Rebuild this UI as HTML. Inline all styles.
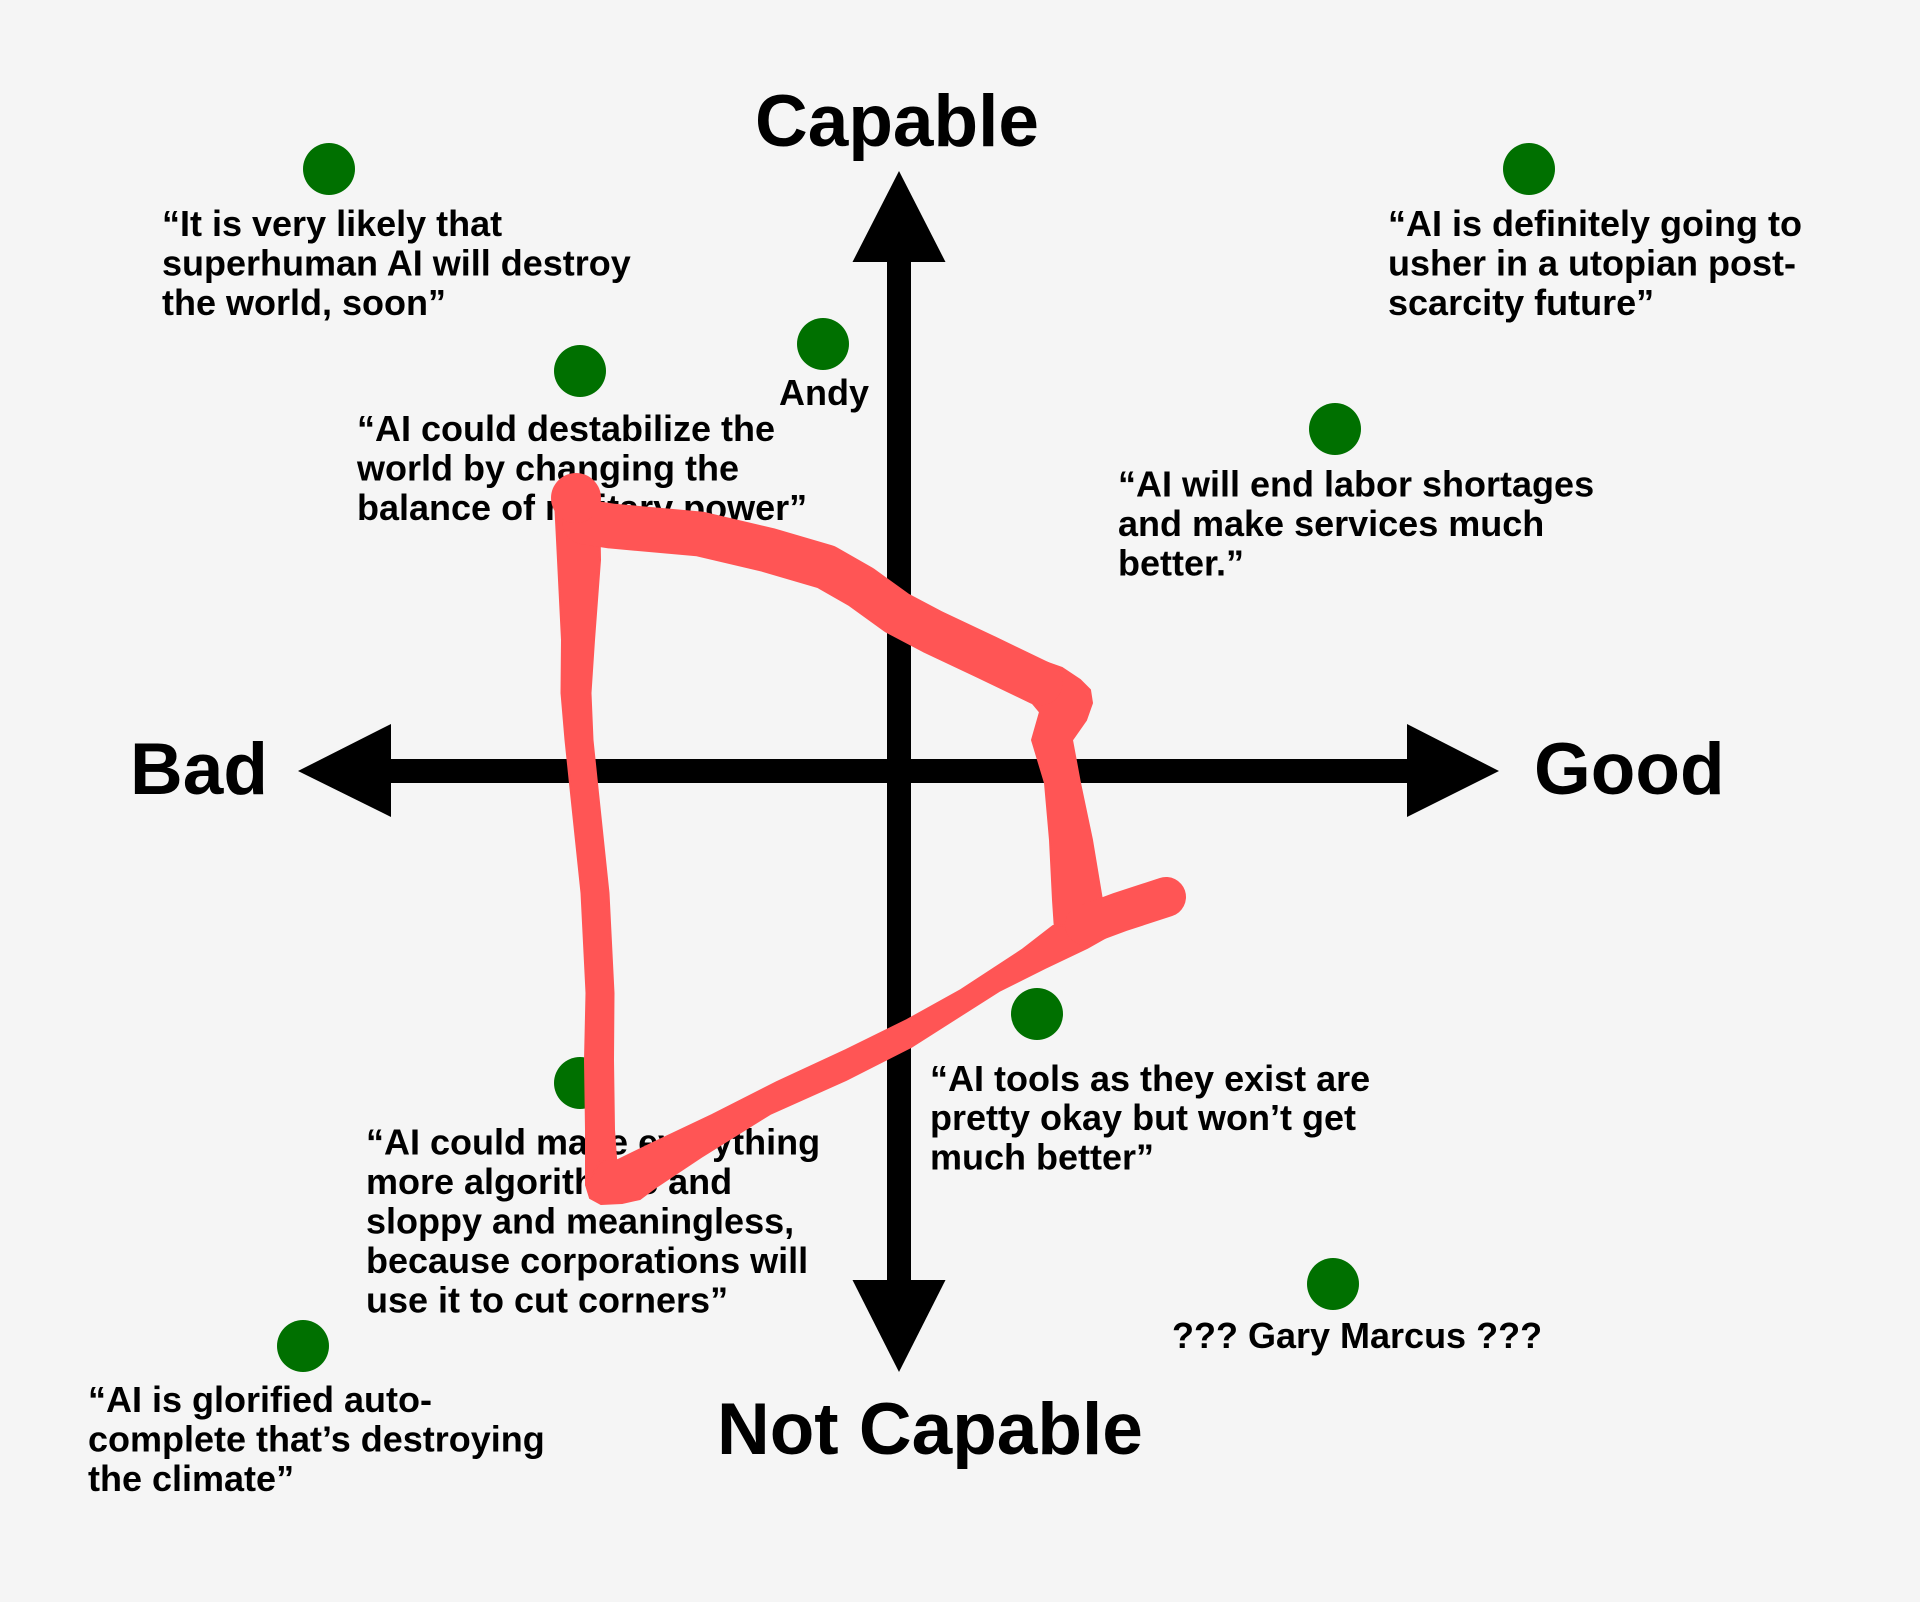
<!DOCTYPE html>
<html>
<head>
<meta charset="utf-8">
<style>
  html,body{margin:0;padding:0;background:#f5f5f5;}
  body{width:1920px;height:1602px;overflow:hidden;}
  svg{display:block;}
  .q{font-family:"Liberation Sans",Arial,Helvetica,sans-serif;font-weight:bold;font-size:36px;fill:#000;}
  .big{font-family:"Liberation Sans",Arial,Helvetica,sans-serif;font-weight:bold;font-size:73px;fill:#000;}
</style>
</head>
<body>
<svg width="1920" height="1602" viewBox="0 0 1920 1602" xmlns="http://www.w3.org/2000/svg">
  <rect x="0" y="0" width="1920" height="1602" fill="#f5f5f5"/>

  <!-- Axes -->
  <rect x="887" y="258" width="24" height="1026" fill="#000"/>
  <polygon points="899,171 945.5,262 852.5,262" fill="#000"/>
  <polygon points="899,1372 945.5,1280 852.5,1280" fill="#000"/>
  <rect x="387" y="759" width="1024" height="24" fill="#000"/>
  <polygon points="298,771 391,724 391,817" fill="#000"/>
  <polygon points="1499,771 1407,724 1407,817" fill="#000"/>

  <!-- Axis labels -->
  <text class="big" x="755" y="146">Capable</text>
  <text class="big" x="130" y="794">Bad</text>
  <text class="big" x="1534" y="794">Good</text>
  <text class="big" x="717" y="1454">Not Capable</text>

  <!-- Dots -->
  <g fill="#007000">
    <circle cx="329" cy="169" r="26"/>
    <circle cx="580" cy="371" r="26"/>
    <circle cx="823" cy="344" r="26"/>
    <circle cx="1529" cy="169" r="26"/>
    <circle cx="1335" cy="429" r="26"/>
    <circle cx="580" cy="1083" r="26"/>
    <circle cx="1037" cy="1014" r="26"/>
    <circle cx="303" cy="1346" r="26"/>
    <circle cx="1333" cy="1284" r="26"/>
  </g>

  <!-- Quotes -->
  <text class="q" x="162" y="236">“It is very likely that</text>
  <text class="q" x="162" y="275.5">superhuman AI will destroy</text>
  <text class="q" x="162" y="315">the world, soon”</text>

  <text class="q" x="1388" y="236">“AI is definitely going to</text>
  <text class="q" x="1388" y="275.5">usher in a utopian post-</text>
  <text class="q" x="1388" y="315">scarcity future”</text>

  <text class="q" x="779" y="405">Andy</text>

  <text class="q" x="357" y="441">“AI could destabilize the</text>
  <text class="q" x="357" y="480.5">world by changing the</text>
  <text class="q" x="357" y="520">balance of military power”</text>

  <text class="q" x="1118" y="496.5">“AI will end labor shortages</text>
  <text class="q" x="1118" y="536">and make services much</text>
  <text class="q" x="1118" y="575.5">better.”</text>

  <text class="q" x="930" y="1091">“AI tools as they exist are</text>
  <text class="q" x="930" y="1130">pretty okay but won’t get</text>
  <text class="q" x="930" y="1169.5">much better”</text>

  <text class="q" x="366" y="1154.5">“AI could make everything</text>
  <text class="q" x="366" y="1194">more algorithmic and</text>
  <text class="q" x="366" y="1233.5">sloppy and meaningless,</text>
  <text class="q" x="366" y="1273">because corporations will</text>
  <text class="q" x="366" y="1312.5">use it to cut corners”</text>

  <text class="q" x="1172" y="1348">??? Gary Marcus ???</text>

  <text class="q" x="88" y="1412">“AI is glorified auto-</text>
  <text class="q" x="88" y="1451.5">complete that’s destroying</text>
  <text class="q" x="88" y="1491">the climate”</text>

  <!-- Red hand-drawn stroke -->
  <g fill="#ff5555" stroke="#ff5555" stroke-width="2" stroke-linejoin="round">
    <!-- left side (tapered) -->
    <polygon points="555,500 558,560 562,640 561.5,693 565.5,740 571,793 581.5,893 586.5,993 585,1060 586,1130 586,1185 618,1185 614,1130 613,1060 613.5,993 608.5,893 598,793 592.5,740 590.5,693 594,640 600,560 599,500"/>
    <!-- right side with kink -->
    <polygon points="1030,700 1040,712 1032,740 1045,783 1050,840 1053,900 1055,930 1098,925 1102,900 1092,840 1080,783 1072,740 1086,720 1092,703 1090,690 1080,680 1062,668 1045,662"/>
    <!-- diagonal -->
    <polygon points="1053,926 1022,950 961,990 907,1020 846,1050 777,1082 712,1115 655,1142 618,1160 600,1162 586,1185 590,1198 601,1204 622,1203 640,1199 656,1187 701,1157 770,1114 846,1080 911,1047 999,991 1045,968 1087,948 1110,935 1128,924"/>
  </g>
  <g fill="none" stroke="#ff5555" stroke-linecap="round" stroke-linejoin="round">
    <!-- top -->
    <path d="M585,522 L611,526 L700,534 L768,550 L826,567 L861,587 L897,613 L933,632 L986,657 L1040,683" stroke-width="45"/>
    <!-- branch -->
    <path d="M1085,925 L1120,912 L1166,897" stroke-width="40"/>
  </g>
  <circle cx="576" cy="498" r="25" fill="#ff5555"/>
</svg>
</body>
</html>
